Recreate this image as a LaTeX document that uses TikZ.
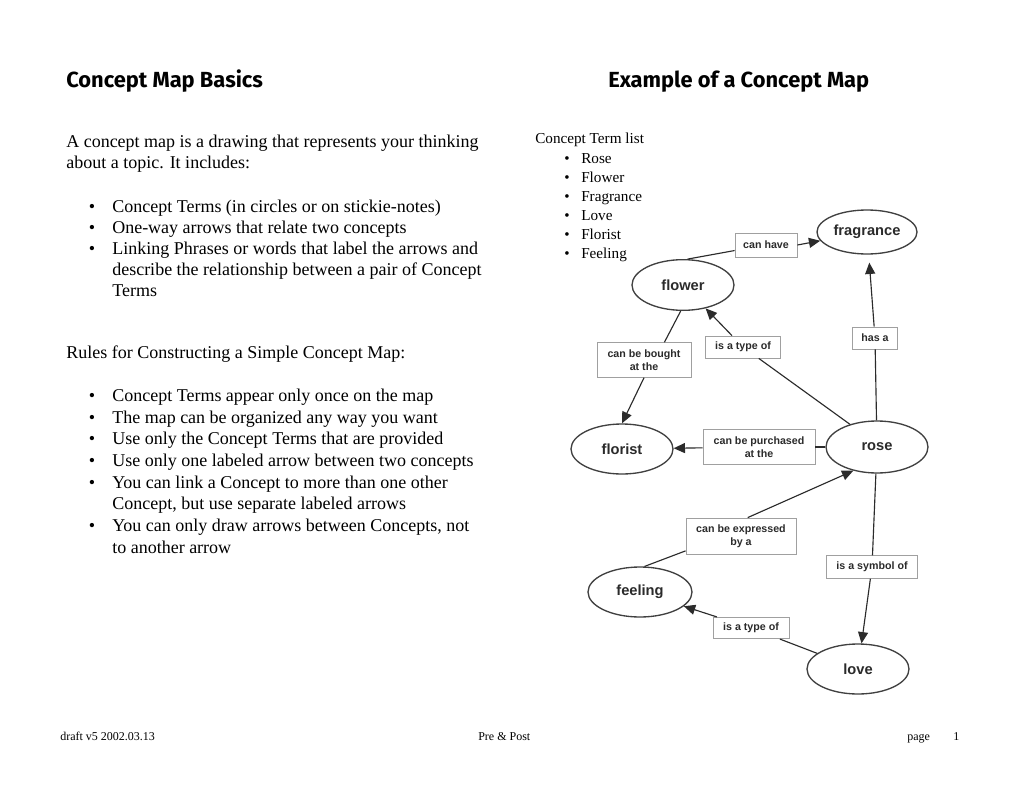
\documentclass[tikz,border=0pt]{standalone}
\usepackage{fontspec}
\setmainfont{Liberation Serif}
\newfontfamily\mapfont{Liberation Sans}
\newfontfamily\titlefont{Fira Sans}
\usetikzlibrary{shapes.geometric,arrows.meta}
\definecolor{ink}{HTML}{2B2B2B}
\definecolor{boxline}{HTML}{A0A0A0}
\begin{document}
\begin{tikzpicture}[x=0.75pt,y=-0.75pt,
 title/.style={anchor=base west, inner sep=0, font=\titlefont\bfseries\fontsize{16.4}{18}\selectfont},
 body/.style={anchor=base west, inner sep=0, font=\fontsize{13.5}{15}\selectfont},
 bul/.style={anchor=base, inner sep=0, font=\fontsize{13.5}{15}\selectfont},
 listtxt/.style={anchor=base west, inner sep=0, font=\fontsize{11.4}{13}\selectfont},
 lbul/.style={anchor=base, inner sep=0, font=\fontsize{11.4}{13}\selectfont},
 foot/.style={anchor=base west, inner sep=0, font=\fontsize{9}{10}\selectfont},
 concept/.style={ellipse, draw=black!75, line width=1pt, fill=white, inner sep=0,
   minimum width=76.5pt, minimum height=37.5pt,
   font=\mapfont\bfseries\fontsize{11}{13}\selectfont, text=ink},
 linkbox/.style={rectangle, draw=boxline, line width=0.6pt, fill=white, inner sep=0,
   align=center, font=\mapfont\bfseries\fontsize{8}{9.5}\selectfont, text=ink},
 conn/.style={draw=ink, line width=0.85pt},
 arr/.style={conn, -{Triangle[length=8.5pt,width=7.5pt]}},
]
\useasboundingbox[fill=white] (0,0) rectangle (1020,788);

% titles
\node[title] (tleft) at (66,88) {Concept Map Basics};
\node[title] (tright) at (608,88) {Example of a Concept Map};

% left column
\node[body] (l1) at (66,148) {A concept map is a drawing that represents your thinking};
\node[body] (l2) at (66,169) {about a topic. It includes:};
\node[bul] (b1) at (92,212) {\textbullet};
\node[body] (l3) at (112,212) {Concept Terms (in circles or on stickie-notes)};
\node[bul] (b2) at (92,233) {\textbullet};
\node[body] (l4) at (112,233) {One-way arrows that relate two concepts};
\node[bul] (b3) at (92,254) {\textbullet};
\node[body] (l5) at (112,254) {Linking Phrases or words that label the arrows and};
\node[body] (l6) at (112,275) {describe the relationship between a pair of Concept};
\node[body] (l7) at (112,296) {Terms};

\node[body] (r0) at (66,358) {Rules for Constructing a Simple Concept Map:};
\node[bul] (rb1) at (92,401) {\textbullet};
\node[body] (r1) at (112,401) {Concept Terms appear only once on the map};
\node[bul] (rb2) at (92,423) {\textbullet};
\node[body] (r2) at (112,423) {The map can be organized any way you want};
\node[bul] (rb3) at (92,444) {\textbullet};
\node[body] (r3) at (112,444) {Use only the Concept Terms that are provided};
\node[bul] (rb4) at (92,466) {\textbullet};
\node[body] (r4) at (112,466) {Use only one labeled arrow between two concepts};
\node[bul] (rb5) at (92,488) {\textbullet};
\node[body] (r5) at (112,488) {You can link a Concept to more than one other};
\node[body] (r6) at (112,509) {Concept, but use separate labeled arrows};
\node[bul] (rb6) at (92,531) {\textbullet};
\node[body] (r7) at (112,531) {You can only draw arrows between Concepts, not};
\node[body] (r8) at (112,553) {to another arrow};

% concept term list
\node[listtxt] (ct) at (535,144) {Concept Term list};
\node[lbul] (cb1) at (567,163) {\textbullet};
\node[listtxt] (c1) at (581,163) {Rose};
\node[lbul] (cb2) at (567,182) {\textbullet};
\node[listtxt] (c2) at (581,182) {Flower};
\node[lbul] (cb3) at (567,201) {\textbullet};
\node[listtxt] (c3) at (581,201) {Fragrance};
\node[lbul] (cb4) at (567,220) {\textbullet};
\node[listtxt] (c4) at (581,220) {Love};
\node[lbul] (cb5) at (567,239) {\textbullet};
\node[listtxt] (c5) at (581,239) {Florist};
\node[lbul] (cb6) at (567,258) {\textbullet};
\node[listtxt] (c6) at (581,258) {Feeling};

% concepts
\node[concept, minimum width=75pt, minimum height=33pt] (fragrance) at (867,232) {fragrance};
\node[concept, minimum height=38pt] (flower) at (683,285) {flower};
\node[concept] (florist) at (622,449) {florist};
\node[concept, minimum height=39pt] (rose) at (877,447) {rose};
\node[concept, minimum width=78pt] (feeling) at (640,592) {feeling};
\node[concept] (love) at (858,669) {love};

% linking phrases
\node[linkbox, minimum width=46.5pt, minimum height=18pt] (canhave) at (766,245) {can have};
\node[linkbox, minimum width=56pt, minimum height=16.5pt] (typeA) at (743,347) {is a type of};
\node[linkbox, minimum width=70.5pt, minimum height=26pt] (bought) at (644,360) {can be bought\\at the};
\node[linkbox, minimum width=34pt, minimum height=16.5pt] (hasa) at (875,338) {has a};
\node[linkbox, minimum width=84pt, minimum height=26pt] (purchased) at (759,447) {can be purchased\\at the};
\node[linkbox, minimum width=82.5pt, minimum height=27pt] (expressed) at (741,536) {can be expressed\\by a};
\node[linkbox, minimum width=68pt, minimum height=17pt] (symbol) at (872,567) {is a symbol of};
\node[linkbox, minimum width=57pt, minimum height=16pt] (typeB) at (751,628) {is a type of};

% connectors
\draw[conn] (flower.80) -- (canhave.190);
\draw[arr] (canhave.east) -- (fragrance);
\draw[conn] (rose) -- (hasa);
\draw[arr, shorten >=6pt] (hasa) -- (fragrance);
\draw[conn] (rose.140) -- (typeA);
\draw[arr] (typeA) -- (flower);
\draw[conn] (flower.265) -- (bought.41);
\draw[arr] (bought.south) -- (florist.north);
\draw[conn] (rose) -- (purchased);
\draw[arr] (purchased) -- (florist);
\draw[conn] (feeling.80) -- (expressed.195);
\draw[arr] (expressed.70) -- (rose.225);
\draw[conn] (rose) -- (symbol);
\draw[arr] (symbol) -- (love);
\draw[conn] (love) -- (typeB);
\draw[arr] (typeB) -- (feeling);

% footer
\node[foot] (f1) at (60,740) {draft v5 2002.03.13};
\node[foot] (f2) at (478,740) {Pre \& Post};
\node[foot] (f3) at (907,740) {page};
\node[foot] (f4) at (953,740) {1};
\end{tikzpicture}
\end{document}
